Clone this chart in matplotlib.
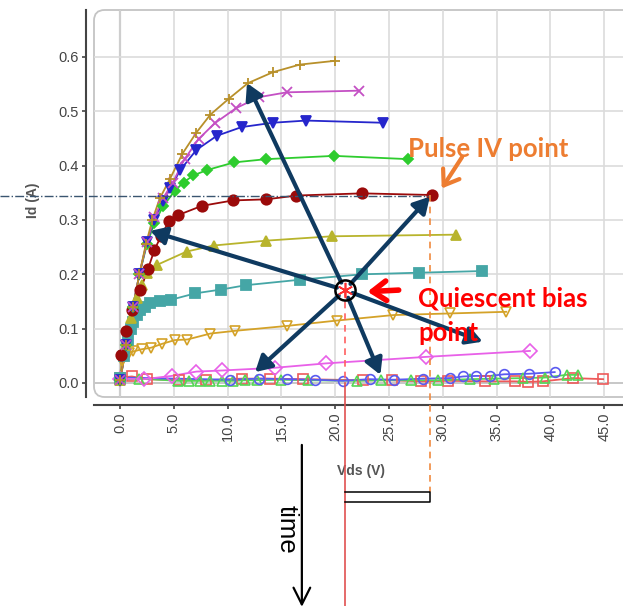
import matplotlib
matplotlib.use("Agg")
import matplotlib.pyplot as plt
from matplotlib.patches import FancyBboxPatch

# Pulsed IV curves (Vds in V, Id in A)
vds_plus = [0.0, 0.6, 1.2, 1.8, 2.4, 3.0, 3.7, 4.65, 5.8, 7.1, 8.4, 10.1, 11.9, 14.2, 16.7, 20.0]
id_plus = [0.005, 0.07, 0.14, 0.2, 0.255, 0.3, 0.34, 0.376, 0.422, 0.461, 0.494, 0.523, 0.552, 0.572, 0.586, 0.593]

vds_x = [0.0, 0.6, 1.2, 1.8, 2.5, 3.2, 4.0, 4.9, 6.0, 7.3, 8.8, 10.8, 12.9, 15.5, 22.2]
id_x = [0.005, 0.07, 0.14, 0.2, 0.26, 0.305, 0.34, 0.369, 0.412, 0.449, 0.478, 0.506, 0.526, 0.535, 0.538]

vds_tdown = [0.0, 0.6, 1.2, 1.8, 2.5, 3.2, 4.0, 4.65, 5.6, 7.1, 9.0, 11.3, 14.2, 17.3, 24.4]
id_tdown = [0.005, 0.07, 0.14, 0.2, 0.26, 0.3, 0.335, 0.358, 0.392, 0.429, 0.455, 0.471, 0.479, 0.483, 0.479]

vds_diam = [0.0, 0.6, 1.2, 1.8, 2.5, 3.2, 4.0, 5.1, 5.9, 6.8, 8.1, 10.6, 13.6, 19.9, 26.8]
id_diam = [0.005, 0.07, 0.14, 0.2, 0.255, 0.295, 0.325, 0.354, 0.369, 0.382, 0.392, 0.406, 0.412, 0.418, 0.412]

vds_dot = [0.1, 0.6, 1.1, 1.9, 2.6, 3.2, 3.8, 4.55, 5.4, 7.6, 10.5, 13.6, 16.4, 22.5, 29.0]
id_dot = [0.052, 0.095, 0.134, 0.172, 0.21, 0.245, 0.27, 0.298, 0.309, 0.326, 0.336, 0.338, 0.345, 0.349, 0.346]

vds_tup = [0.0, 0.6, 1.0, 1.55, 2.0, 2.5, 3.4, 6.2, 8.7, 13.6, 19.7, 31.2]
id_tup = [0.005, 0.07, 0.12, 0.156, 0.18, 0.203, 0.217, 0.242, 0.253, 0.262, 0.27, 0.273]

vds_sqf = [0.0, 0.4, 0.7, 1.0, 1.25, 1.6, 1.9, 2.3, 2.8, 3.7, 4.7, 7.0, 9.4, 11.7, 16.7, 22.5, 27.8, 33.6]
id_sqf = [0.01, 0.05, 0.079, 0.1, 0.113, 0.125, 0.134, 0.14, 0.147, 0.15, 0.153, 0.165, 0.172, 0.18, 0.19, 0.2, 0.203, 0.206]

vds_tdh = [0.0, 0.15, 0.5, 0.8, 1.25, 2.0, 2.9, 3.9, 5.1, 6.25, 8.4, 10.7, 15.5, 20.2, 25.4, 30.7, 35.9]
id_tdh = [0.01, 0.04, 0.05, 0.055, 0.058, 0.062, 0.065, 0.072, 0.079, 0.08, 0.091, 0.096, 0.105, 0.115, 0.125, 0.128, 0.131]

vds_dh = [0.0, 2.2, 4.8, 7.1, 9.5, 14.4, 19.1, 28.4, 38.1]
id_dh = [0.008, 0.007, 0.013, 0.021, 0.023, 0.028, 0.036, 0.048, 0.059]

vds_circ = [0.0, 10.2, 12.9, 15.5, 18.1, 20.7, 23.2, 25.5, 28.2, 30.7, 31.9, 33.1, 34.4, 35.7, 38.0, 40.4]
id_circ = [0.01, 0.006, 0.008, 0.007, 0.006, 0.004, 0.007, 0.006, 0.008, 0.009, 0.012, 0.013, 0.013, 0.016, 0.017, 0.02]

vds_tuh = [0.0, 1.8, 5.4, 6.4, 7.4, 8.4, 9.5, 10.5, 11.6, 12.7, 15.0, 17.5, 22.0, 24.3, 27.0,
           29.6, 32.5, 34.8, 37.5, 39.5, 41.5, 42.6]
id_tuh = [0.005, 0.008, 0.004, 0.004, 0.004, 0.004, 0.004, 0.004, 0.005, 0.005, 0.006, 0.005, 0.004,
          0.005, 0.005, 0.005, 0.007, 0.008, 0.009, 0.01, 0.015, 0.015]

vds_sqh = [0.0, 1.1, 2.5, 5.5, 8.0, 11.3, 13.9, 17.0, 22.6, 25.3, 28.0, 30.5, 33.9, 36.7, 37.9, 39.3, 42.1, 44.9]
id_sqh = [0.01, 0.012, 0.007, 0.005, 0.005, 0.008, 0.008, 0.007, 0.005, 0.005, 0.003, 0.004, 0.003,
          0.003, 0.002, 0.003, 0.009, 0.007]

# bias point, pulse point and where the arrows end
q_vds, q_id = 20.9, 0.171
p_vds, p_id = 28.8, 0.346
arrow_ends = [(11.8, 0.552), (2.8, 0.28), (12.55, 0.02), (24.2, 0.015), (33.7, 0.076), (28.8, 0.343)]

x_ticks = [0, 5, 10, 15, 20, 25, 30, 35, 40, 45]
y_ticks = [0.0, 0.1, 0.2, 0.3, 0.4, 0.5, 0.6]

# (x, y, colour, marker, filled)
series = [
    (vds_sqh, id_sqh, '#ee5a5a', 's', False),
    (vds_tuh, id_tuh, '#55d655', '^', False),
    (vds_circ, id_circ, '#5a5af0', 'o', False),
    (vds_dh, id_dh, '#e860e8', 'D', False),
    (vds_tdh, id_tdh, '#d4a228', 'v', False),
    (vds_sqf, id_sqf, '#45a6a6', 's', True),
    (vds_tup, id_tup, '#b8b42c', '^', True),
    (vds_dot, id_dot, '#9b0a0a', 'o', True),
    (vds_diam, id_diam, '#2ecc2e', 'D', True),
    (vds_tdown, id_tdown, '#2626cc', 'v', True),
    (vds_x, id_x, '#c450c4', 'x', True),
    (vds_plus, id_plus, '#b8902a', '+', True),
]

fig = plt.figure(figsize=(6.23, 6.06), dpi=100)
ax = fig.add_axes([94 / 623, (606 - 397) / 606, 529 / 623, 387 / 606])
ax.patch.set_visible(False)

# rounded plot frame
frame = FancyBboxPatch((0, 0), 1.1, 1, boxstyle="round,pad=0,rounding_size=0.02",
                       mutation_aspect=1.37, transform=ax.transAxes, facecolor='white',
                       edgecolor='#c4c4c4', lw=1.3, zorder=-5, clip_on=False)
ax.add_patch(frame)

ax.set_xlim(-2.42, 46.75)
ax.set_ylim(-0.0258, 0.6865)
ax.set_xticks(x_ticks)
ax.set_yticks(y_ticks)
ax.set_xticklabels(['%.1f' % v for v in x_ticks])
ax.set_yticklabels(['%.1f' % v for v in y_ticks])
ax.grid(True, color='#dcdcdc', lw=1.2, zorder=-4)
ax.set_axisbelow(True)
ax.axvline(0, color='#8a8a8a', lw=1.5, zorder=0)
ax.axhline(0, color='#555555', lw=1.3, zorder=0)

for s in ['top', 'right']:
    ax.spines[s].set_visible(False)
ax.spines['left'].set_position(('outward', 6))
ax.spines['bottom'].set_position(('outward', 6))
for s in ['left', 'bottom']:
    ax.spines[s].set_color('#444444')
    ax.spines[s].set_linewidth(1.5)
ax.tick_params(length=3, width=1.2, color='#444444', labelcolor='#444444', labelsize=10.5, pad=2)
ax.tick_params(axis='x', labelrotation=90)
for lab in ax.get_xticklabels() + ax.get_yticklabels():
    lab.set_family('Liberation Sans')

ax.set_xlabel('Vds (V)', fontsize=10, fontweight='bold', color='#555555', family='Liberation Sans')
ax.xaxis.set_label_coords(0.505, -0.172)
ax.set_ylabel('Id (A)', fontsize=10, fontweight='bold', color='#555555', family='Liberation Sans')
ax.yaxis.set_label_coords(-0.102, 0.509)

for xs, ys, col, mk, filled in series:
    ax.plot(xs, ys, color=col, lw=1.3, zorder=2)
    if filled:
        size = {'D': 5.5, 'o': 7.5, 's': 7}.get(mk, 7)
        ax.plot(xs, ys, ls='none', marker=mk, ms=size, color=col, mew=1.3, zorder=3)
    else:
        ax.plot(xs, ys, ls='none', marker=mk, ms=7, mfc='none', mec=col, mew=1.2, zorder=3)

# guide lines
ax.plot([-11.15, p_vds], [p_id - 0.002, p_id - 0.002], color='#3a5570', lw=1, ls='-.',
        clip_on=False, zorder=4)
ax.plot([q_vds, q_vds], [q_id, 0], color='#ff6060', lw=1.2, ls=(0, (4, 3)), zorder=4)
ax.plot([q_vds, q_vds], [0, -0.42], color='#e05050', lw=1.2, clip_on=False, zorder=4)
ax.plot([p_vds, p_vds], [p_id, -0.2006], color='#f08a40', lw=1.2, ls=(0, (4, 3)),
        clip_on=False, zorder=4)
# pulse drawn on the time axis
ax.plot([q_vds, p_vds, p_vds, q_vds], [-0.2006, -0.2006, -0.219, -0.219], color='black',
        lw=1.1, clip_on=False, zorder=4)

# arrows from the bias point
for ex, ey in arrow_ends:
    ax.annotate('', xy=(ex, ey), xytext=(q_vds, q_id),
                arrowprops=dict(arrowstyle='-|>,head_length=0.8,head_width=0.45', lw=3,
                                color='#0f3a60', shrinkA=6, shrinkB=0, mutation_scale=12),
                zorder=6)

ax.plot(q_vds, q_id, marker=(6, 2, 0), ms=11, color='#ff3030', mew=1.2, zorder=7)
ax.plot(q_vds, q_id, marker='o', ms=14.5, mfc='none', mec='black', mew=1.8, zorder=7)

ax.annotate('', xy=(23.0, 0.168), xytext=(25.9, 0.171),
            arrowprops=dict(arrowstyle='->,head_length=0.5,head_width=0.35', lw=4,
                            color='#ff0000', shrinkA=0, shrinkB=0, mutation_scale=20), zorder=8)
ax.text(27.7, 0.14, 'Quiescent bias', color='#ff0000', fontsize=18.5, fontweight='bold',
        family='Lato', va='baseline', ha='left', zorder=8)
ax.text(27.7, 0.077, 'point', color='#ff0000', fontsize=18.5, fontweight='bold',
        family='Lato', va='baseline', ha='left', zorder=8)

ax.annotate('', xy=(29.9, 0.358), xytext=(31.8, 0.416),
            arrowprops=dict(arrowstyle='->,head_length=0.5,head_width=0.35', lw=3,
                            color='#ed7d31', shrinkA=0, shrinkB=0, mutation_scale=20), zorder=8)
ax.text(26.8, 0.416, 'Pulse IV point', color='#ed7d31', fontsize=18.5, fontweight='bold',
        family='Lato', va='baseline', ha='left', zorder=8)

# time arrow
ax.annotate('', xy=(16.9, -0.412), xytext=(16.9, -0.114), annotation_clip=False,
            arrowprops=dict(arrowstyle='->,head_length=0.6,head_width=0.3', lw=1.6,
                            color='black', shrinkA=0, shrinkB=0, mutation_scale=20))
ax.text(15.5, -0.27, 'time', rotation=-90, fontsize=18.5, family='Liberation Sans',
        ha='center', va='center', clip_on=False)

plt.savefig('out.png', dpi=100)
